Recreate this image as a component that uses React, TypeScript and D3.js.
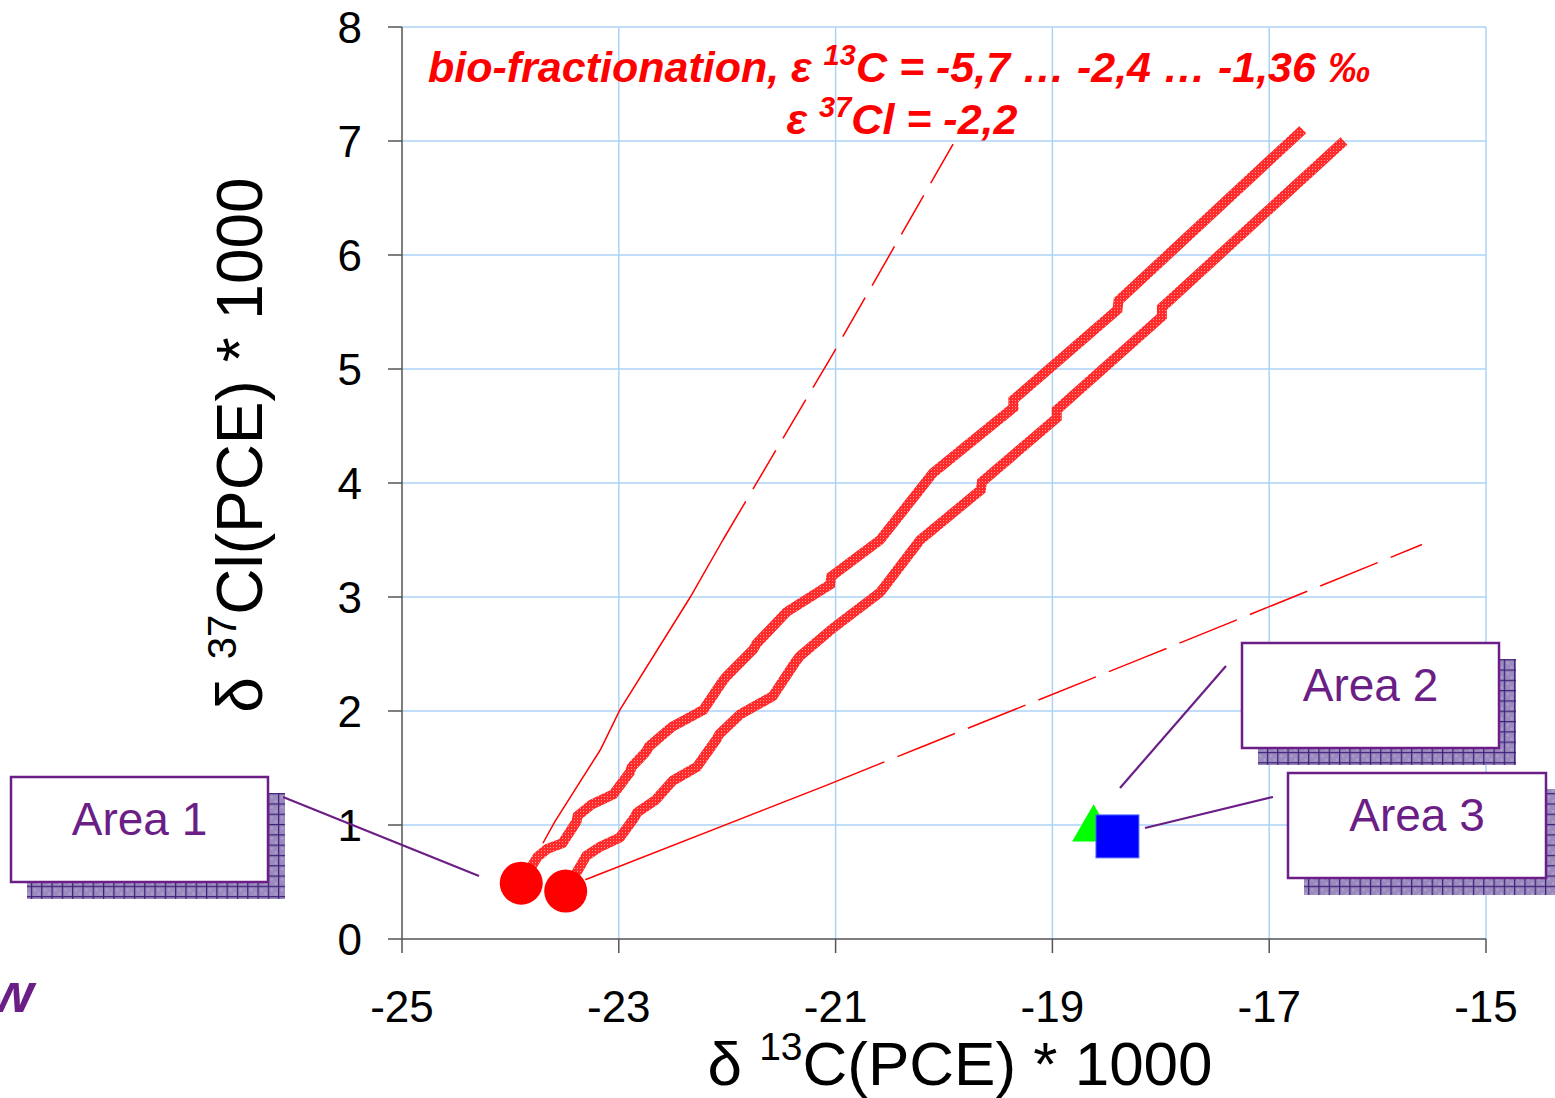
import React from "react";
import * as d3 from "d3";

// ---- axis ticks ----
const X_TICKS = [-25, -23, -21, -19, -17, -15];
const Y_TICKS = [0, 1, 2, 3, 4, 5, 6, 7, 8];
const X_GRID = [-23, -21, -19, -17, -15];
const Y_GRID = [1, 2, 3, 4, 5, 6, 7, 8];

// ---- bio-fractionation curves (δ13C, δ37Cl) ----
const curveUpper: [number, number][] = [
  [-23.9, 0.49], [-23.75, 0.72], [-23.66, 0.79], [-23.52, 0.84], [-23.39, 1.03], [-23.38, 1.08],
  [-23.25, 1.18], [-23.05, 1.27], [-22.9, 1.46], [-22.88, 1.51], [-22.75, 1.64], [-22.72, 1.69],
  [-22.51, 1.86], [-22.22, 2.01], [-22.05, 2.25], [-22.01, 2.3], [-21.76, 2.54], [-21.73, 2.59],
  [-21.45, 2.87], [-21.05, 3.11], [-21.04, 3.18], [-20.59, 3.5], [-20.1, 4.09], [-19.36, 4.66],
  [-19.36, 4.73], [-18.4, 5.52], [-18.39, 5.6], [-16.69, 7.1],
];
const curveLower: [number, number][] = [
  [-23.49, 0.42], [-23.33, 0.68], [-23.3, 0.73], [-23.17, 0.81], [-22.99, 0.89], [-22.86, 1.06],
  [-22.83, 1.11], [-22.66, 1.22], [-22.5, 1.39], [-22.28, 1.51], [-22.1, 1.75], [-22.07, 1.8],
  [-21.88, 1.97], [-21.58, 2.13], [-21.37, 2.43], [-21.33, 2.48], [-21.02, 2.73], [-20.59, 3.04],
  [-20.22, 3.5], [-19.66, 3.94], [-19.65, 4.01], [-18.96, 4.57], [-18.96, 4.64], [-17.99, 5.46],
  [-17.99, 5.54], [-16.31, 7.0],
];

// ---- envelope lines (thin) ----
const envSteepSolid: [number, number][] = [
  [-23.7, 0.84], [-23.59, 1.03], [-23.39, 1.33], [-23.17, 1.66], [-22.99, 2.01], [-22.34, 3.0], [-22.04, 3.5],
];
const envSteepDashed: [number, number][] = [[-22.04, 3.5], [-21.02, 5.14], [-19.87, 7.05]];
const envFlatSolid: [number, number][] = [[-23.31, 0.52], [-21.08, 1.35]];
const envFlatDashed: [number, number][] = [[-21.08, 1.35], [-20.22, 1.68], [-18.1, 2.49], [-15.59, 3.46]];

// ---- sample points ----
const startPoints: [number, number][] = [[-23.9, 0.49], [-23.49, 0.42]];
const trianglePoint: [number, number] = [-18.62, 1.0];
const squarePoint: [number, number] = [-18.4, 0.9];

// ---- labels ----
const TITLE_1A = "bio-fractionation, ε ";
const TITLE_1SUP = "13";
const TITLE_1B = "C = -5,7 … -2,4 … -1,36 ‰";
const TITLE_2A = "ε ";
const TITLE_2SUP = "37";
const TITLE_2B = "Cl = -2,2";
const AREA_LABELS = ["Area 1", "Area 2", "Area 3"];

const W = 1555;
const H = 1098;
const M = { left: 402, right: 1486, top: 27, bottom: 939 };
const FONT = "'Liberation Sans', Arial, sans-serif";
const PURPLE = "#6b1f86";

// callout layout (pixels)
const callouts = [
  { box: [11, 777, 257, 105], leader: [283, 797, 479, 876] },
  { box: [1242, 643, 257, 105], leader: [1226, 666, 1120, 788] },
  { box: [1288, 773, 258, 105], leader: [1273, 797, 1145, 828] },
];

export default function App() {
  const x = d3.scaleLinear().domain([-25, -15]).range([M.left, M.right]);
  const y = d3.scaleLinear().domain([0, 8]).range([M.bottom, M.top]);
  const line = d3.line<[number, number]>().x((d) => x(d[0])).y((d) => y(d[1]));
  const gridColor = "#abd3f7";
  const axisColor = "#555";

  const sq = 43;
  const tri = d3.symbol().type(d3.symbolTriangle).size(800)();

  return (
    <svg
      width={W}
      height={H}
      style={{ position: "absolute", left: 0, top: 0, display: "block", background: "#fff" }}
      fontFamily={FONT}
    >
      <defs>
        <pattern id="hatch" patternUnits="userSpaceOnUse" width="3" height="3">
          <rect width="3" height="3" fill="#ff2a2a" />
          <rect x="1" y="1" width="1" height="1" fill="#ff9a9a" />
        </pattern>
        <pattern id="shadow" patternUnits="userSpaceOnUse" width="10.3" height="10.3">
          <rect width="10.3" height="10.3" fill="#9a8abd" />
          <rect x="3" y="3" width="2" height="2" fill="#b2a6cf" />
          <rect x="7" y="7" width="2" height="2" fill="#b2a6cf" />
          <rect width="10.3" height="1.2" fill="#3d1f78" />
          <rect width="1.2" height="10.3" fill="#3d1f78" />
        </pattern>
      </defs>
      <rect width={W} height={H} fill="#fff" />

      {/* grid */}
      {Y_GRID.map((v) => (
        <line key={"gy" + v} x1={M.left} x2={M.right} y1={y(v)} y2={y(v)} stroke={gridColor} strokeWidth={1.5} />
      ))}
      {X_GRID.map((v) => (
        <line key={"gx" + v} x1={x(v)} x2={x(v)} y1={M.top} y2={M.bottom} stroke={gridColor} strokeWidth={1.5} />
      ))}

      {/* axes */}
      <line x1={M.left} x2={M.left} y1={M.top} y2={M.bottom} stroke={axisColor} strokeWidth={1.5} />
      <line x1={M.left} x2={M.right} y1={M.bottom} y2={M.bottom} stroke={axisColor} strokeWidth={1.5} />
      {Y_TICKS.map((v) => (
        <g key={"yt" + v}>
          <line x1={M.left - 14} x2={M.left} y1={y(v)} y2={y(v)} stroke={axisColor} strokeWidth={1.5} />
          <text x={362} y={y(v)} dy="0.36em" textAnchor="end" fontSize={44} fill="#000">
            {v}
          </text>
        </g>
      ))}
      {X_TICKS.map((v) => (
        <g key={"xt" + v}>
          <line x1={x(v)} x2={x(v)} y1={M.bottom} y2={M.bottom + 14} stroke={axisColor} strokeWidth={1.5} />
          <text x={x(v)} y={1022} textAnchor="middle" fontSize={44} fill="#000">
            {v}
          </text>
        </g>
      ))}

      {/* axis titles */}
      <text x={960} y={1085} textAnchor="middle" fontSize={62} fill="#000">
        δ <tspan fontSize={39} dy={-25}>13</tspan>
        <tspan dy={25}>C(PCE) * 1000</tspan>
      </text>
      <text transform="translate(262,445) rotate(-90)" textAnchor="middle" fontSize={64} fill="#000">
        δ <tspan fontSize={40} dy={-26}>37</tspan>
        <tspan dy={26}>Cl(PCE) * 1000</tspan>
      </text>

      {/* envelope lines */}
      <path d={line(envSteepSolid) || ""} fill="none" stroke="#ff0000" strokeWidth={1.5} />
      <path d={line(envSteepDashed) || ""} fill="none" stroke="#ff0000" strokeWidth={1.5} strokeDasharray="45,14" />
      <path d={line(envFlatSolid) || ""} fill="none" stroke="#ff0000" strokeWidth={1.5} />
      <path d={line(envFlatDashed) || ""} fill="none" stroke="#ff0000" strokeWidth={1.5} strokeDasharray="62,14" />

      {/* fractionation curves */}
      {[curveUpper, curveLower].map((c, i) => (
        <path key={"c" + i} d={line(c) || ""} fill="none" stroke="url(#hatch)" strokeWidth={10} strokeLinejoin="miter" strokeLinecap="butt" />
      ))}

      {/* start points */}
      {startPoints.map((p, i) => (
        <circle key={"s" + i} cx={x(p[0])} cy={y(p[1])} r={21.5} fill="#ff0000" />
      ))}

      {/* triangle and square */}
      <path
        d={tri || ""}
        transform={`translate(${x(trianglePoint[0])},${y(trianglePoint[1]) + 4})`}
        fill="#00ff00"
      />
      <rect
        x={x(squarePoint[0]) - sq / 2}
        y={y(squarePoint[1]) - sq / 2}
        width={sq}
        height={sq}
        fill="#0000ff"
        stroke="#5a6cff"
        strokeWidth={1}
      />

      {/* title */}
      <text x={428} y={82} fontSize={43} fontWeight="bold" fontStyle="italic" fill="#ff0000">
        {TITLE_1A}
        <tspan fontSize={29} dy={-17}>{TITLE_1SUP}</tspan>
        <tspan dy={17}>{TITLE_1B}</tspan>
      </text>
      <text x={902} y={134} textAnchor="middle" fontSize={43} fontWeight="bold" fontStyle="italic" fill="#ff0000">
        {TITLE_2A}
        <tspan fontSize={29} dy={-17}>{TITLE_2SUP}</tspan>
        <tspan dy={17}>{TITLE_2B}</tspan>
      </text>

      {/* callouts */}
      {callouts.map((c, i) => {
        const [bx, by, bw, bh] = c.box;
        const [lx1, ly1, lx2, ly2] = c.leader;
        return (
          <g key={"co" + i}>
            <rect x={bx + 16} y={by + 16} width={bw + 1} height={bh + 1} fill="url(#shadow)" />
            <line x1={lx1} y1={ly1} x2={lx2} y2={ly2} stroke={PURPLE} strokeWidth={2.2} />
            <rect x={bx} y={by} width={bw} height={bh} fill="#fff" stroke={PURPLE} strokeWidth={2.5} />
            <text x={bx + bw / 2} y={by + 58} textAnchor="middle" fontSize={46} fill={PURPLE}>
              {AREA_LABELS[i]}
            </text>
          </g>
        );
      })}

      {/* clipped logo fragment */}
      <text x={-10} y={1012} fontSize={56} fontWeight="bold" fontStyle="italic" fill={PURPLE}>
        w
      </text>
    </svg>
  );
}
